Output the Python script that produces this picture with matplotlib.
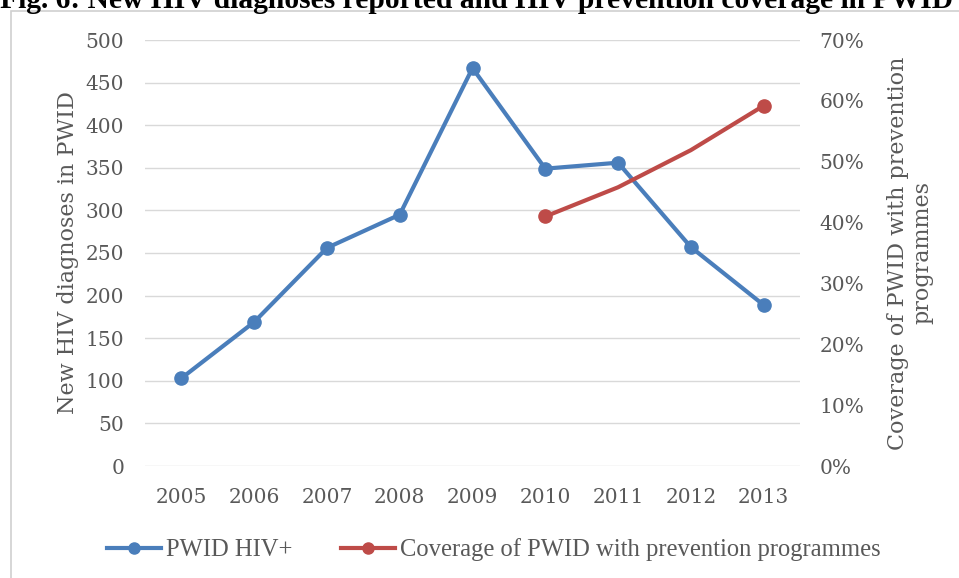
import numpy as np
import matplotlib.pyplot as plt
from matplotlib.patches import Rectangle
from matplotlib.lines import Line2D

years = ['2005', '2006', '2007', '2008', '2009', '2010', '2011', '2012', '2013']
hiv_cases = [103, 169, 256, 295, 467, 349, 356, 257, 189]
cov_years = ['2010', '2011', '2012', '2013']
coverage = [41.0, 45.8, 51.9, 59.2]

blue = '#4A7EBB'
red = '#BE4B48'
grey = '#595959'
serif = ['DejaVu Serif']
times = ['Liberation Serif', 'DejaVu Serif']

fig = plt.figure(figsize=(9.59, 5.78), dpi=100)

# chart frame (runs off the right and bottom edges)
fig.patches.append(Rectangle((11 / 959, -5 / 578), 960 / 959, 572 / 578,
                             transform=fig.transFigure, fill=False,
                             edgecolor='#D0D0D0', linewidth=1.2))

fig.text(0.497, 1 - 8 / 578, 'Fig. 6: New HIV diagnoses reported and HIV prevention coverage in PWID',
         ha='center', va='baseline', fontsize=21.3, fontweight='bold',
         family=times, color='black')

ax = fig.add_axes([145 / 959, 112 / 578, 655 / 959, 426 / 578])
x = np.arange(len(years))
ax.plot(x, hiv_cases, color=blue, lw=3, marker='o', ms=9.5, zorder=3)
ax.set_xlim(-0.5, len(years) - 0.5)
ax.set_ylim(0, 500)
ax.set_yticks(np.arange(0, 501, 50))
ax.set_xticks(x)
ax.set_xticklabels(years)
ax.grid(axis='y', color='#D9D9D9', lw=1)
ax.set_axisbelow(True)
for s in ax.spines.values():
    s.set_visible(False)
ax.tick_params(length=0, labelsize=14.5, labelcolor=grey)
ax.tick_params(axis='y', pad=15)
ax.tick_params(axis='x', pad=16)
for lab in ax.get_xticklabels() + ax.get_yticklabels():
    lab.set_family(serif)
ax.set_ylabel('New HIV diagnoses in PWID', fontsize=16, color=grey, family=serif, labelpad=5)

ax2 = ax.twinx()
cx = [years.index(y) for y in cov_years]
ax2.plot(cx, coverage, color=red, lw=3, marker='o', ms=9.5, markevery=[0, len(cx) - 1], zorder=3)
ax2.set_ylim(0, 70)
ax2.set_yticks(np.arange(0, 71, 10))
ax2.set_yticklabels([f'{v}%' for v in range(0, 71, 10)])
for s in ax2.spines.values():
    s.set_visible(False)
ax2.tick_params(length=0, labelsize=14.5, labelcolor=grey, pad=14)
for lab in ax2.get_yticklabels():
    lab.set_family(serif)
ax2.set_ylabel('Coverage of PWID with prevention\nprogrammes', fontsize=16, color=grey,
               family=serif, labelpad=16, linespacing=1.15)

handles = [Line2D([], [], color=blue, lw=3, marker='o', ms=8),
           Line2D([], [], color=red, lw=3, marker='o', ms=8)]
fig.legend(handles, ['PWID HIV+', 'Coverage of PWID with prevention programmes'],
           loc='center', bbox_to_anchor=(0.515, 28 / 578), ncol=2, frameon=False,
           prop={'family': times, 'size': 17.7}, labelcolor=grey,
           handlelength=2.2, columnspacing=2.0, handletextpad=0.2)

fig.savefig('out.png', dpi=100)
